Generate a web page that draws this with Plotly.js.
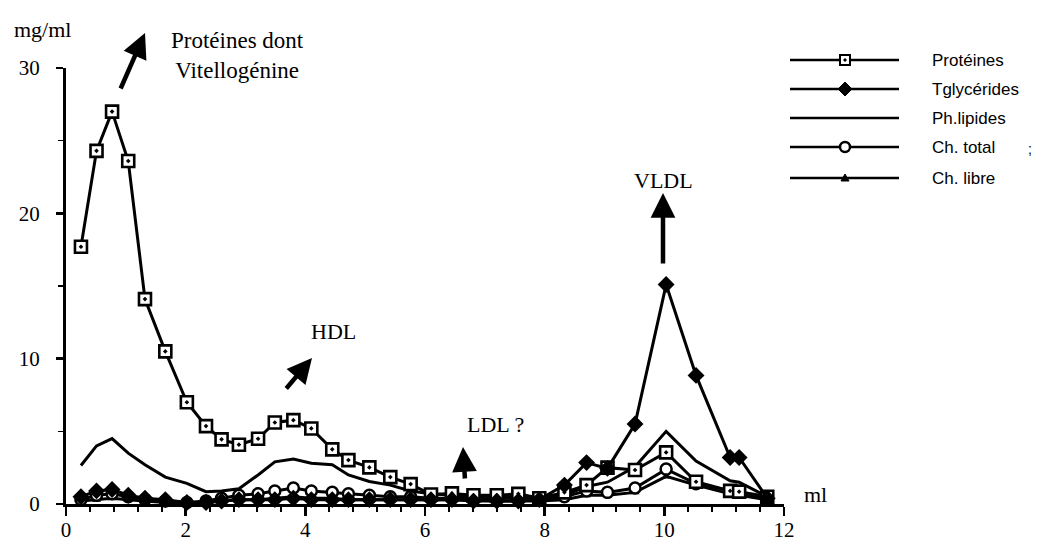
<!DOCTYPE html>
<html>
<head>
<meta charset="utf-8">
<script src="https://cdn.plot.ly/plotly-3.0.1.min.js"></script>
<style>html,body{margin:0;padding:0;background:#fff;}#chart{width:1042px;height:543px;}</style>
</head>
<body>
<div id="chart"></div>
<script>
// Fraction volumes (ml)
const volume = [0.25, 0.51, 0.77, 1.04, 1.32, 1.66, 2.02, 2.34, 2.60, 2.89, 3.21, 3.49, 3.80, 4.10, 4.45, 4.72, 5.07, 5.42, 5.76, 6.10, 6.45, 6.81, 7.20, 7.56, 7.91, 8.33, 8.70, 9.05, 9.51, 10.03, 10.53, 11.10, 11.25, 11.72];
// Concentrations (mg/ml)
const proteines   = [17.7, 24.3, 27.0, 23.6, 14.1, 10.5, 7.0, 5.36, 4.45, 4.08, 4.49, 5.61, 5.77, 5.2, 3.76, 3.02, 2.52, 1.85, 1.37, 0.65, 0.73, 0.6, 0.6, 0.7, 0.4, 0.8, 1.3, 2.5, 2.34, 3.55, 1.53, 0.9, 0.85, 0.5];
const tglycerides = [0.5, 0.9, 1.0, 0.6, 0.4, 0.3, 0.1, 0.1, 0.2, 0.3, 0.3, 0.3, 0.4, 0.3, 0.3, 0.3, 0.3, 0.3, 0.3, 0.3, 0.3, 0.2, 0.2, 0.2, 0.3, 1.3, 2.85, 2.45, 5.5, 15.1, 8.85, 3.2, 3.2, 0.4];
const phlipides   = [2.65, 4.0, 4.5, 3.5, 2.7, 1.85, 1.42, 0.85, 0.9, 1.05, 2.0, 2.9, 3.1, 2.8, 2.7, 2.0, 1.55, 1.3, 0.9, 0.7, 0.6, 0.5, 0.5, 0.5, 0.4, 0.6, 1.2, 1.5, 2.56, 5.0, 2.95, 1.6, 1.5, 0.5];
const chTotal     = [0.3, 0.6, 0.7, 0.5, 0.3, 0.2, 0.1, 0.2, 0.4, 0.6, 0.7, 0.9, 1.1, 0.9, 0.8, 0.7, 0.6, 0.5, 0.5, 0.4, 0.4, 0.4, 0.4, 0.4, 0.3, 0.5, 0.9, 0.8, 1.1, 2.4, 1.4, 0.9, 0.8, 0.4];
const chLibre     = [0.2, 0.3, 0.4, 0.3, 0.2, 0.1, 0.1, 0.1, 0.2, 0.3, 0.3, 0.4, 0.5, 0.4, 0.4, 0.3, 0.3, 0.3, 0.3, 0.3, 0.3, 0.3, 0.2, 0.2, 0.2, 0.3, 0.6, 0.6, 0.8, 1.9, 1.3, 0.7, 0.6, 0.3];

const seriesNames = ["Protéines", "Tglycérides", "Ph.lipides", "Ch. total", "Ch. libre"];
const xTickVals = [0, 2, 4, 6, 8, 10, 12];
const yTickVals = [0, 10, 20, 30];

const SERIF = "Liberation Serif, Times New Roman, serif";
const SANS = "Liberation Sans, Arial, sans-serif";
const W = 1042, H = 543;
const M = {l: 66, r: 258, t: 68, b: 39};
const PW = W - M.l - M.r, PH = H - M.t - M.b;
const px = v => (v - M.l) / PW;          // pixel x -> paper
const py = v => (H - M.b - v) / PH;      // pixel y -> paper

const LW = 3;
const traces = [
  {x: volume, y: phlipides, name: seriesNames[2], mode: "lines",
   line: {color: "#000", width: LW}, cliponaxis: false},
  {x: volume, y: chLibre, name: seriesNames[4], mode: "lines+markers",
   line: {color: "#000", width: LW}, marker: {symbol: "triangle-up", size: 8, color: "#000"}, cliponaxis: false},
  {x: volume, y: chTotal, name: seriesNames[3], mode: "lines+markers",
   line: {color: "#000", width: LW}, marker: {symbol: "circle", size: 11, color: "#fff", line: {color: "#000", width: 2.5}}, cliponaxis: false},
  {x: volume, y: proteines, name: seriesNames[0], mode: "lines+markers",
   line: {color: "#000", width: LW}, marker: {symbol: "square-dot", size: 12, color: "#fff", line: {color: "#000", width: 2.6}}, cliponaxis: false},
  {x: volume, y: tglycerides, name: seriesNames[1], mode: "lines+markers",
   line: {color: "#000", width: LW}, marker: {symbol: "diamond", size: 13, color: "#000"}, cliponaxis: false}
];

// Legend (drawn manually to get the long sample lines)
const legRows = [60, 89, 118, 147, 178];
const legX0 = 790, legX1 = 899, legMk = 845, legText = 930;
const shapes = [];
const annotations = [];
legRows.forEach((ry, i) => {
  shapes.push({type: "line", xref: "paper", yref: "paper", x0: px(legX0), x1: px(legX1), y0: py(ry), y1: py(ry), line: {color: "#000", width: 2.5}});
  annotations.push({xref: "paper", yref: "paper", x: px(legText), y: py(ry), xanchor: "left", yanchor: "middle",
    text: seriesNames[i], showarrow: false, font: {family: SANS, size: 17, color: "#000"}});
});
// marker glyphs in legend
shapes.push({type: "rect", xref: "paper", yref: "paper", x0: px(legMk - 5), x1: px(legMk + 5), y0: py(legRows[0] - 5), y1: py(legRows[0] + 5), fillcolor: "#fff", line: {color: "#000", width: 2}});
shapes.push({type: "rect", xref: "paper", yref: "paper", x0: px(legMk - 1), x1: px(legMk + 1), y0: py(legRows[0] - 1), y1: py(legRows[0] + 1), fillcolor: "#000", line: {color: "#000", width: 1}});
shapes.push({type: "path", xref: "paper", yref: "paper",
  path: `M${px(legMk - 7)},${py(legRows[1])} L${px(legMk)},${py(legRows[1] - 7)} L${px(legMk + 7)},${py(legRows[1])} L${px(legMk)},${py(legRows[1] + 7)} Z`,
  fillcolor: "#000", line: {color: "#000", width: 1}});
shapes.push({type: "circle", xref: "paper", yref: "paper", x0: px(legMk - 5), x1: px(legMk + 5), y0: py(legRows[3] - 5), y1: py(legRows[3] + 5), fillcolor: "#fff", line: {color: "#000", width: 2.5}});
shapes.push({type: "path", xref: "paper", yref: "paper",
  path: `M${px(legMk - 4)},${py(legRows[4] + 3)} L${px(legMk)},${py(legRows[4] - 4)} L${px(legMk + 4)},${py(legRows[4] + 3)} Z`,
  fillcolor: "#000", line: {color: "#000", width: 1}});
annotations.push({xref: "paper", yref: "paper", x: px(1030), y: py(149), xanchor: "center", yanchor: "middle", text: ";", showarrow: false, font: {family: SANS, size: 14, color: "#000"}});

// Text labels
function label(x, y, text, size) {
  annotations.push({xref: "paper", yref: "paper", x: px(x), y: py(y), xanchor: "center", yanchor: "middle",
    text: text, align: "center", showarrow: false, font: {family: SERIF, size: size || 22, color: "#000"}});
}
label(42, 29, "mg/ml");
label(815, 494, "ml");
label(237, 55, "Protéines dont<br>Vitellogénine", 23);
label(333, 332, "HDL");
label(495, 424, "LDL ?");
label(663, 181, "VLDL");

// Arrows
const arrows = [
  {head: [145, 33], tail: [120, 90]},
  {head: [312, 358], tail: [285, 390]},
  {head: [463, 447], tail: [465, 480]},
  {head: [663, 193], tail: [663, 265]}
];
arrows.forEach(a => {
  annotations.push({xref: "paper", yref: "paper", x: px(a.head[0]), y: py(a.head[1]), ax: a.tail[0] - a.head[0], ay: a.tail[1] - a.head[1],
    axref: "pixel", ayref: "pixel", text: "", showarrow: true, arrowhead: 2, arrowsize: 1.1, arrowwidth: 4.5, arrowcolor: "#000", standoff: 0});
});

const layout = {
  width: W, height: H,
  margin: M,
  paper_bgcolor: "#fff", plot_bgcolor: "#fff",
  showlegend: false,
  xaxis: {
    range: [0, 12], tickvals: xTickVals, ticktext: xTickVals.map(String),
    showgrid: false, zeroline: false, showline: true, linecolor: "#000", linewidth: 2.5,
    ticks: "outside", ticklen: 9, tickwidth: 2.5, tickcolor: "#000", ticklabelstandoff: -4,
    minor: {dtick: 0.4, tick0: 0, ticks: "outside", ticklen: 5, tickwidth: 2, tickcolor: "#000"},
    tickfont: {family: SERIF, size: 21, color: "#000"}
  },
  yaxis: {
    range: [0, 30], tickvals: yTickVals, ticktext: yTickVals.map(String),
    showgrid: false, zeroline: false, showline: true, linecolor: "#000", linewidth: 3,
    ticks: "outside", ticklen: 7, tickwidth: 2.5, tickcolor: "#000", ticklabelstandoff: 12,
    minor: {dtick: 5, tick0: 0, ticks: "outside", ticklen: 5, tickwidth: 1.5, tickcolor: "#000"},
    tickfont: {family: SERIF, size: 21, color: "#000"}
  },
  shapes: shapes,
  annotations: annotations
};

Plotly.newPlot("chart", traces, layout, {displayModeBar: false, staticPlot: true});
</script>
</body>
</html>
